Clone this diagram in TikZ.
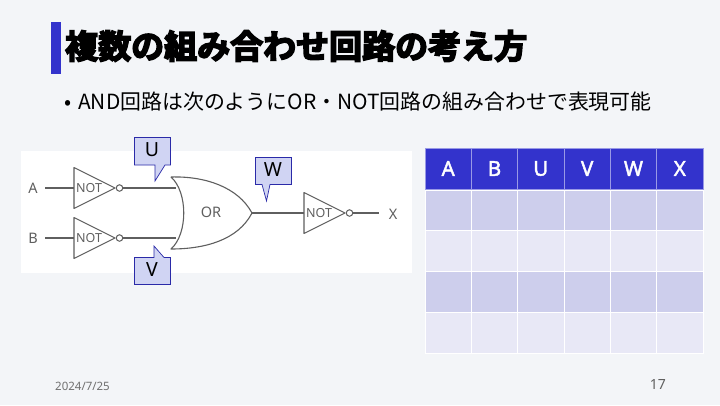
\documentclass[tikz,border=0pt]{standalone}
\usepackage{fontspec}
\setmainfont{Noto Sans}
\newfontfamily\jpfont{Noto Sans CJK JP}
\newfontfamily\titlefont[FakeBold=5]{Noto Sans CJK JP Bold}
\newfontfamily\headfont[FakeBold=2]{Noto Sans}
\definecolor{pagebg}{HTML}{F3F5F8}
\definecolor{accent}{HTML}{3333CC}
\definecolor{rowdark}{HTML}{CDCEEC}
\definecolor{rowlight}{HTML}{E8E8F6}
\definecolor{callfill}{HTML}{D0D4F3}
\definecolor{callline}{HTML}{2A2AA8}
\definecolor{wire}{HTML}{5F5F5F}
\tikzset{
	cell/.style={draw=white,line width=0.6pt},
	headtext/.style={text=white,font=\fontsize{20.5}{20}\selectfont\headfont},
	gatetext/.style={text=wire,font=\fontsize{14.5}{15}\selectfont},
	calltext/.style={text=black,font=\fontsize{19.5}{20}\selectfont},
	callout/.style={draw=callline,fill=callfill,line width=0.7pt,line join=miter},
	gate/.style={draw=wire,line width=1.1pt,line join=round},
	bubble/.style={circle,draw=wire,fill=white,line width=1pt,inner sep=0pt,minimum size=6.5pt}
}
\begin{document}
\begin{tikzpicture}[x=1pt,y=-1pt]
\useasboundingbox (0,0) rectangle (720,405);
\fill[pagebg] (0,0) rectangle (720,405);
%title
\fill[accent] (50.5,22) rectangle (61,74);
\node [anchor=west,inner sep=0pt,font=\fontsize{33}{33}\selectfont\titlefont] (title) at (65,46) {複数の組み合わせ回路の考え方};
\node [anchor=west,inner sep=0pt,font=\fontsize{20.9}{21}\selectfont\jpfont] (body) at (64,102) {•\hspace{7pt}AND回路は次のようにOR・NOT回路の組み合わせで表現可能};
%circuit
\fill[white] (21,151) rectangle (412,273);
\node [gatetext] (inA) at (33,188) {A};
\node [gatetext] (inB) at (33,238) {B};
\node [gatetext] (outX) at (393,214) {X};
\node [gatetext,font=\fontsize{14.5}{15}\selectfont] (orlabel) at (211,212) {OR};
\foreach \name/\xx/\yy in {A/74/188,B/74/238,C/304/213}{
	\coordinate (not\name) at (\xx,\yy);
	\draw [gate] (\xx,\yy-20.5) -- (\xx+41,\yy) -- (\xx,\yy+20.5) -- cycle;
	\node [gatetext,font=\fontsize{12.5}{13}\selectfont,anchor=west,inner sep=0pt] at (\xx+2,\yy) {NOT};
	\node [bubble] (bub\name) at (\xx+45.5,\yy) {};
}
\coordinate (orA) at (176,188);
\coordinate (orB) at (176,238);
\coordinate (orT) at (171,177);
\coordinate (orD) at (171,249);
\coordinate (orO) at (252,213);
\draw [gate] (orT) .. controls (188,192) and (188,234) .. (orD)
	.. controls (205,249) and (238,240) .. (orO)
	.. controls (238,187) and (205,176) .. (orT);
\draw [gate] (inA) ++(12,0) -- (notA);
\draw [gate] (inB) ++(12,0) -- (notB);
\draw [gate] (bubA) -- (orA);
\draw [gate] (bubB) -- (orB);
\draw [gate] (orO) -- (notC);
\draw [gate] (bubC) -- (379,213);
%callouts
\draw [callout] (134.5,137.5) -- (170.5,137.5) -- (170.5,165) -- (165,165) -- (155,181) -- (155,165) -- (134.5,165) -- cycle;
\node [calltext] (lblU) at (152,150) {U};
\draw [callout] (255.5,157.5) -- (291.5,157.5) -- (291.5,184.5) -- (270,184.5) -- (266.5,201) -- (262,184.5) -- (255.5,184.5) -- cycle;
\node [calltext] (lblW) at (273,170) {W};
\draw [callout] (134.5,257.5) -- (154,257.5) -- (154,246) -- (164,257.5) -- (170.5,257.5) -- (170.5,284.5) -- (134.5,284.5) -- cycle;
\node [calltext] (lblV) at (152,270) {V};
%table
\foreach \lbl [count=\i from 0] in {A,B,U,V,W,X}{
	\pgfmathsetmacro{\xl}{425+46.33*\i}
	\pgfmathsetmacro{\xr}{\xl+46.33}
	\pgfmathsetmacro{\xc}{\xl+23.17}
	\draw [cell,fill=accent,draw=white!50!accent] (\xl,148) rectangle (\xr,189);
	\node [headtext] (head\i) at (\xc,168.5) {\lbl};
	\draw [cell,fill=rowdark] (\xl,190.5) rectangle (\xr,230.5);
	\draw [cell,fill=rowlight] (\xl,230.5) rectangle (\xr,271.5);
	\draw [cell,fill=rowdark] (\xl,271.5) rectangle (\xr,312.5);
	\draw [cell,fill=rowlight] (\xl,312.5) rectangle (\xr,353.5);
}
%footer
\node [text=wire!90,font=\fontsize{11.5}{12}\selectfont,anchor=west,inner sep=0pt] (datelbl) at (55,386) {2024/7/25};
\node [text=wire,font=\fontsize{14}{14}\selectfont,anchor=east,inner sep=0pt] (pagenum) at (666,384) {17};
\end{tikzpicture}
\end{document}
